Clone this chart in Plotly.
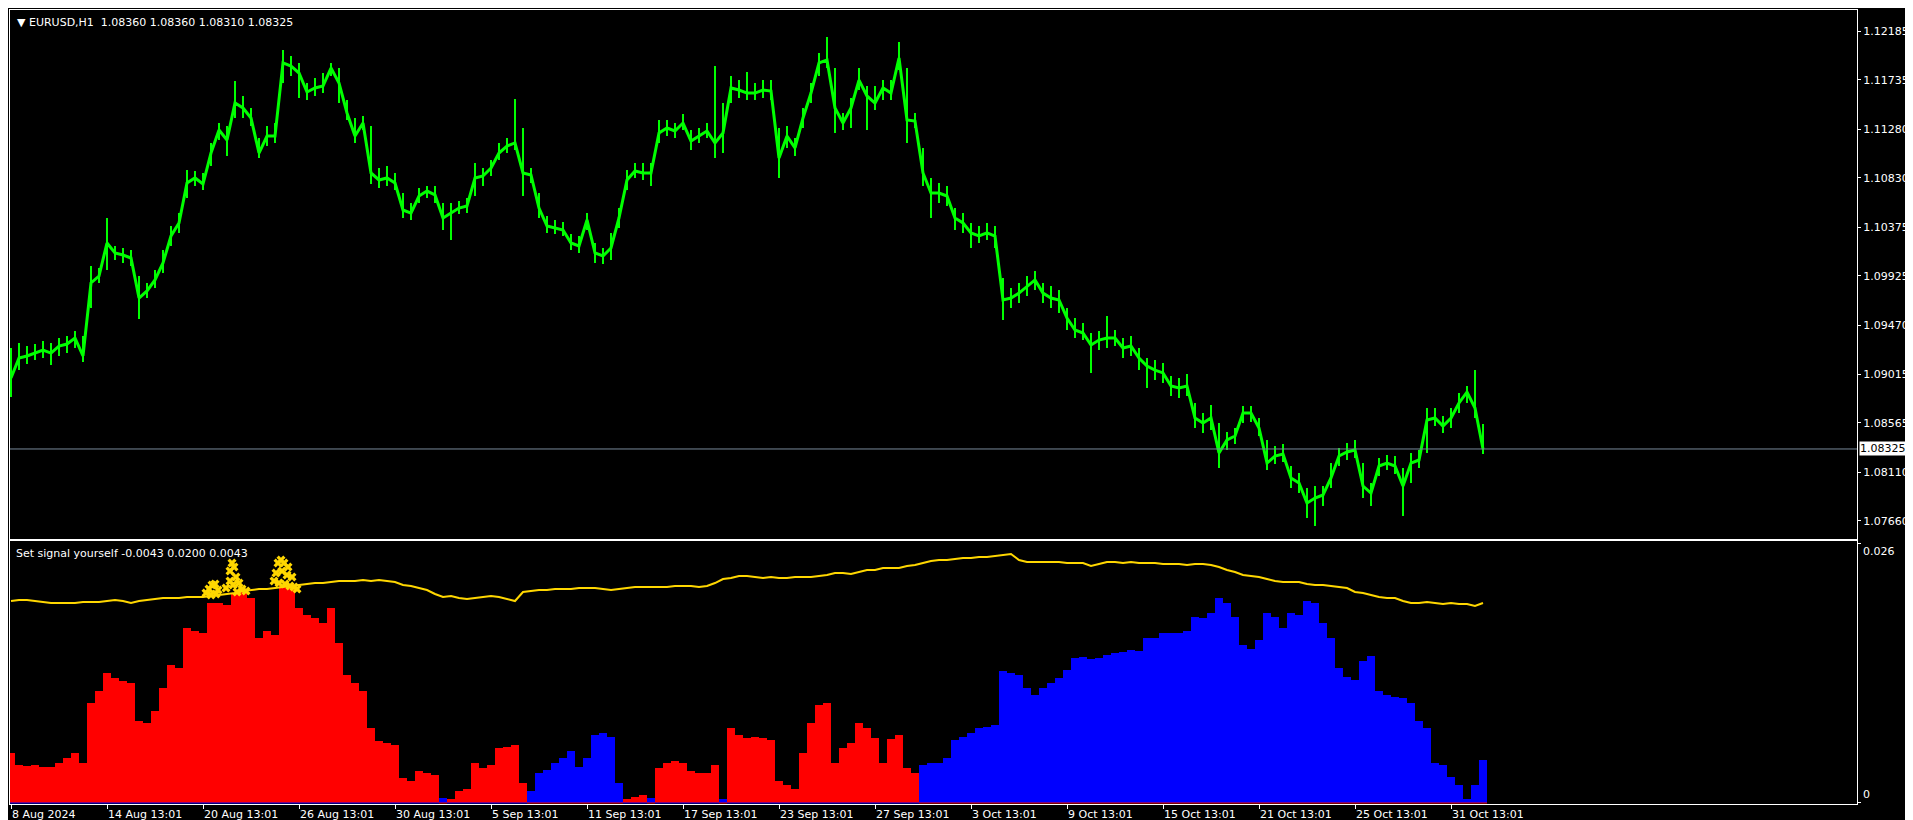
import plotly.graph_objects as go

STEP = 8  # hourly bars per sample

# EURUSD H1 close, sampled every 8 bars
price = [1.08981, 1.09165, 1.09184, 1.09211, 1.09239, 1.09211, 1.09276, 1.09294, 1.09350, 1.09184,
         1.09858, 1.09922, 1.10227, 1.10135, 1.10116, 1.10089, 1.09719, 1.09784, 1.09886, 1.10043,
         1.10292, 1.10412, 1.10781, 1.10828, 1.10772, 1.11058, 1.11271, 1.11178, 1.11520, 1.11474,
         1.11382, 1.11058, 1.11215, 1.11215, 1.11890, 1.11862, 1.11797, 1.11622, 1.11659, 1.11677,
         1.11843, 1.11705, 1.11428, 1.11215, 1.11335, 1.10874, 1.10809, 1.10828, 1.10781, 1.10532,
         1.10504, 1.10661, 1.10707, 1.10671, 1.10458, 1.10504, 1.10550, 1.10569, 1.10828, 1.10846,
         1.10920, 1.11058, 1.11123, 1.11151, 1.10874, 1.10855, 1.10550, 1.10384, 1.10366, 1.10347,
         1.10227, 1.10200, 1.10440, 1.10135, 1.10107, 1.10181, 1.10458, 1.10809, 1.10892, 1.10874,
         1.10874, 1.11243, 1.11289, 1.11262, 1.11335, 1.11169, 1.11215, 1.11262, 1.11151, 1.11243,
         1.11659, 1.11640, 1.11612, 1.11612, 1.11640, 1.11631, 1.11012, 1.11215, 1.11105, 1.11382,
         1.11612, 1.11890, 1.11917, 1.11474, 1.11335, 1.11474, 1.11732, 1.11585, 1.11520, 1.11659,
         1.11612, 1.11936, 1.11363, 1.11354, 1.10874, 1.10689, 1.10689, 1.10661, 1.10458, 1.10412,
         1.10320, 1.10292, 1.10320, 1.10292, 1.09701, 1.09719, 1.09765, 1.09830, 1.09886, 1.09765,
         1.09719, 1.09701, 1.09535, 1.09424, 1.09396, 1.09285, 1.09331, 1.09350, 1.09350, 1.09258,
         1.09276, 1.09165, 1.09091, 1.09054, 1.09027, 1.08907, 1.08888, 1.08907, 1.08611, 1.08565,
         1.08611, 1.08288, 1.08408, 1.08445, 1.08657, 1.08657, 1.08519, 1.08195, 1.08260, 1.08279,
         1.08057, 1.08011, 1.07826, 1.07872, 1.07900, 1.08057, 1.08260, 1.08297, 1.08316, 1.07983,
         1.07918, 1.08168, 1.08195, 1.08168, 1.07983, 1.08195, 1.08223, 1.08593, 1.08611, 1.08537,
         1.08611, 1.08750, 1.08851, 1.08703, 1.08325]

# highest high / lowest low inside each 8-bar sample
high = [1.09258, 1.09304, 1.09276, 1.09294, 1.09322, 1.09304, 1.09350, 1.09368, 1.09415, 1.09368,
        1.10015, 1.09996, 1.10458, 1.10200, 1.10181, 1.10163, 1.09922, 1.09858, 1.09978, 1.10163,
        1.10384, 1.10504, 1.10901, 1.10892, 1.10874, 1.11151, 1.11335, 1.11308, 1.11723, 1.11585,
        1.11474, 1.11197, 1.11308, 1.11335, 1.12010, 1.11954, 1.11890, 1.11705, 1.11751, 1.11797,
        1.11890, 1.11843, 1.11548, 1.11382, 1.11400, 1.11308, 1.10920, 1.10938, 1.10874, 1.10689,
        1.10597, 1.10735, 1.10754, 1.10754, 1.10597, 1.10597, 1.10615, 1.10643, 1.10966, 1.10920,
        1.10994, 1.11151, 1.11197, 1.11557, 1.11289, 1.10920, 1.10689, 1.10477, 1.10440, 1.10421,
        1.10310, 1.10292, 1.10504, 1.10227, 1.10181, 1.10320, 1.10550, 1.10901, 1.10966, 1.10966,
        1.10966, 1.11363, 1.11363, 1.11335, 1.11419, 1.11271, 1.11289, 1.11335, 1.11862, 1.11520,
        1.11769, 1.11733, 1.11806, 1.11705, 1.11733, 1.11733, 1.11289, 1.11308, 1.11197, 1.11474,
        1.11705, 1.11982, 1.12130, 1.11843, 1.11428, 1.11566, 1.11843, 1.11677, 1.11677, 1.11733,
        1.11733, 1.12083, 1.11843, 1.11428, 1.11105, 1.10827, 1.10781, 1.10754, 1.10550, 1.10504,
        1.10412, 1.10384, 1.10412, 1.10384, 1.09904, 1.09812, 1.09858, 1.09922, 1.09969, 1.09858,
        1.09830, 1.09793, 1.09627, 1.09535, 1.09488, 1.09396, 1.09415, 1.09553, 1.09424, 1.09350,
        1.09368, 1.09258, 1.09165, 1.09147, 1.09119, 1.08999, 1.08980, 1.09017, 1.08750, 1.08657,
        1.08731, 1.08565, 1.08482, 1.08519, 1.08722, 1.08722, 1.08611, 1.08408, 1.08353, 1.08371,
        1.08168, 1.08103, 1.07965, 1.07983, 1.07983, 1.08196, 1.08334, 1.08380, 1.08408, 1.08196,
        1.08011, 1.08242, 1.08269, 1.08260, 1.08149, 1.08288, 1.08316, 1.08703, 1.08703, 1.08629,
        1.08703, 1.08842, 1.08907, 1.09054, 1.08556]
low = [1.08805, 1.09054, 1.09110, 1.09147, 1.09165, 1.09100, 1.09184, 1.09211, 1.09258, 1.09128,
       1.09627, 1.09858, 1.09978, 1.10070, 1.10043, 1.10015, 1.09525, 1.09719, 1.09812, 1.09950,
       1.10200, 1.10320, 1.10643, 1.10754, 1.10717, 1.10938, 1.11178, 1.11031, 1.11382, 1.11382,
       1.11308, 1.11012, 1.11123, 1.11151, 1.11705, 1.11769, 1.11566, 1.11548, 1.11585, 1.11612,
       1.11769, 1.11520, 1.11363, 1.11151, 1.11271, 1.10772, 1.10735, 1.10754, 1.10717, 1.10458,
       1.10440, 1.10597, 1.10643, 1.10597, 1.10347, 1.10255, 1.10495, 1.10504, 1.10661, 1.10754,
       1.10846, 1.10994, 1.11058, 1.11086, 1.10661, 1.10781, 1.10458, 1.10320, 1.10310, 1.10292,
       1.10163, 1.10135, 1.10347, 1.10043, 1.10033, 1.10070, 1.10366, 1.10717, 1.10827, 1.10809,
       1.10754, 1.11151, 1.11215, 1.11197, 1.11271, 1.11086, 1.11151, 1.11197, 1.11012, 1.11058,
       1.11520, 1.11566, 1.11548, 1.11548, 1.11566, 1.11548, 1.10827, 1.11105, 1.11031, 1.11289,
       1.11520, 1.11769, 1.11843, 1.11243, 1.11271, 1.11289, 1.11640, 1.11271, 1.11455, 1.11548,
       1.11548, 1.11825, 1.11151, 1.11289, 1.10754, 1.10458, 1.10597, 1.10569, 1.10347, 1.10320,
       1.10181, 1.10227, 1.10255, 1.10181, 1.09516, 1.09627, 1.09673, 1.09738, 1.09793, 1.09673,
       1.09627, 1.09581, 1.09424, 1.09350, 1.09331, 1.09027, 1.09239, 1.09258, 1.09276, 1.09165,
       1.09184, 1.09054, 1.08888, 1.08962, 1.08934, 1.08814, 1.08796, 1.08814, 1.08519, 1.08473,
       1.08500, 1.08149, 1.08316, 1.08371, 1.08565, 1.08574, 1.08445, 1.08131, 1.08186, 1.08205,
       1.07965, 1.07918, 1.07688, 1.07614, 1.07798, 1.07965, 1.08168, 1.08223, 1.08242, 1.07872,
       1.07798, 1.08075, 1.08131, 1.08094, 1.07706, 1.08011, 1.08149, 1.08288, 1.08537, 1.08473,
       1.08519, 1.08657, 1.08750, 1.08611, 1.08279]

# indicator histogram (absolute value) and its colour state, every 8 bars
hist = [.0050, .0038, .0037, .0038, .0036, .0036, .0040, .0045, .0050, .0040,
        .0100, .0112, .0130, .0125, .0122, .0120, .0082, .0080, .0092, .0115,
        .0138, .0135, .0175, .0172, .0170, .0200, .0200, .0198, .0210, .0212,
        .0205, .0165, .0172, .0168, .0218, .0218, .0195, .0188, .0185, .0180,
        .0195, .0160, .0128, .0120, .0112, .0075, .0062, .0060, .0058, .0025,
        .0022, .0032, .0030, .0028, .0005, .0004, .0012, .0014, .0040, .0035,
        .0038, .0055, .0056, .0058, .0020, .0012, .0030, .0033, .0040, .0045,
        .0052, .0036, .0045, .0068, .0070, .0066, .0020, .0004, .0006, .0008,
        .0005, .0035, .0040, .0042, .0040, .0032, .0030, .0030, .0038, .0004,
        .0075, .0068, .0065, .0066, .0065, .0063, .0022, .0018, .0014, .0050,
        .0080, .0098, .0100, .0040, .0055, .0060, .0080, .0075, .0065, .0040,
        .0064, .0068, .0035, .0030, .0038, .0040, .0040, .0045, .0063, .0066,
        .0070, .0075, .0076, .0078, .0132, .0130, .0128, .0115, .0108, .0115,
        .0120, .0125, .0133, .0145, .0146, .0144, .0145, .0148, .0150, .0151,
        .0153, .0152, .0165, .0165, .0170, .0170, .0170, .0172, .0186, .0185,
        .0190, .0205, .0200, .0186, .0158, .0154, .0163, .0190, .0186, .0175,
        .0190, .0188, .0202, .0200, .0180, .0165, .0135, .0126, .0123, .0142,
        .0147, .0112, .0108, .0106, .0105, .0100, .0082, .0075, .0040, .0038,
        .0026, .0018, .0004, .0018, .0043]

state = ("R" * 54 + "B" + "R" * 10 + "B" * 12 + "RRR" + "B" + "R" * 8 + "B" + "R" * 24 + "B" * 71)

# signal (yellow) line, every 8 bars
signal = [.0202, .0203, .0203, .0202, .0201, .0200, .0200, .0200, .0200, .0201,
          .0201, .0201, .0202, .0203, .0202, .0200, .0202, .0203, .0204, .0205,
          .0205, .0205, .0206, .0206, .0206, .0207, .0208, .0209, .0210, .0212,
          .0213, .0214, .0214, .0215, .0216, .0217, .0218, .0219, .0220, .0220,
          .0221, .0222, .0222, .0222, .0223, .0222, .0223, .0222, .0221, .0218,
          .0217, .0215, .0213, .0209, .0206, .0207, .0205, .0204, .0205, .0206,
          .0207, .0206, .0204, .0202, .0211, .0212, .0213, .0213, .0214, .0214,
          .0214, .0215, .0215, .0215, .0214, .0213, .0214, .0215, .0216, .0216,
          .0216, .0216, .0216, .0217, .0217, .0217, .0216, .0217, .0220, .0224,
          .0225, .0227, .0227, .0226, .0225, .0226, .0225, .0225, .0226, .0226,
          .0226, .0227, .0228, .0230, .0230, .0229, .0231, .0233, .0233, .0235,
          .0235, .0235, .0237, .0238, .0240, .0242, .0243, .0243, .0244, .0245,
          .0245, .0246, .0246, .0247, .0248, .0249, .0243, .0241, .0241, .0241,
          .0241, .0241, .0240, .0240, .0240, .0237, .0239, .0241, .0241, .0240,
          .0241, .0240, .0240, .0240, .0239, .0239, .0239, .0238, .0239, .0239,
          .0238, .0236, .0233, .0231, .0228, .0227, .0226, .0224, .0222, .0221,
          .0221, .0221, .0219, .0218, .0218, .0217, .0216, .0215, .0211, .0210,
          .0208, .0206, .0205, .0205, .0202, .0200, .0200, .0201, .0200, .0199,
          .0200, .0199, .0199, .0197, .0200]

# signal arrows (bar index, value)
sig_bar = [195, 198, 201, 204, 207, 200, 205,
           219, 221, 223, 219, 225, 215, 222, 228, 231, 235, 226,
           267, 270, 273, 277, 265, 271, 276, 281, 263, 268, 274, 279, 283, 286]
sig_val = [.0210, .0214, .0218, .0219, .0213, .0208, .0209,
           .0232, .0240, .0236, .0222, .0226, .0215, .0218, .0220, .0214, .0212, .0211,
           .0240, .0243, .0240, .0236, .0230, .0232, .0228, .0226, .0222, .0220, .0219, .0217, .0216, .0214]

tick_bars = [0, 96, 192, 288, 384, 480, 576, 672, 768, 864, 960, 1056, 1152, 1248, 1344, 1440]
tick_text = ["8 Aug 2024", "14 Aug 13:01", "20 Aug 13:01", "26 Aug 13:01", "30 Aug 13:01",
             "5 Sep 13:01", "11 Sep 13:01", "17 Sep 13:01", "23 Sep 13:01", "27 Sep 13:01",
             "3 Oct 13:01", "9 Oct 13:01", "15 Oct 13:01", "21 Oct 13:01", "25 Oct 13:01",
             "31 Oct 13:01"]
price_ticks = [1.12185, 1.11735, 1.11280, 1.10830, 1.10375, 1.09925, 1.09470, 1.09015,
               1.08565, 1.08110, 1.07660]
last_price = 1.08325
title_main = "EURUSD,H1\u00a0\u00a01.08360 1.08360 1.08310 1.08325"
title_ind = "Set signal yourself -0.0043 0.0200 0.0043"

xs = [i * STEP for i in range(len(price))]
FONT = "DejaVu Sans"
WHITE = "#FFFFFF"
GREEN = "#00FF00"
RED = "#FF0000"
BLUE = "#0000FF"

fig = go.Figure()
# high-low bars of each sample, then the close line
bx, by = [], []
for x, h, l in zip(xs, high, low):
    bx += [x, x, None]
    by += [l, h, None]
fig.add_trace(go.Scatter(x=bx, y=by, mode="lines", line=dict(color=GREEN, width=2),
                         xaxis="x", yaxis="y", hoverinfo="skip"))
fig.add_trace(go.Scatter(x=xs, y=price, mode="lines", line=dict(color=GREEN, width=3),
                         xaxis="x", yaxis="y", hoverinfo="skip"))

colmap = {"R": RED, "B": BLUE}
fig.add_trace(go.Bar(x=xs, y=hist, width=STEP,
                     marker=dict(color=[colmap[c] for c in state], line=dict(width=0)),
                     xaxis="x2", yaxis="y2", hoverinfo="skip"))

# thin zero line of the opposite buffer
for col_key, line_col in (("R", BLUE), ("B", RED)):
    zx, zy = [], []
    for x, c in zip(xs, state):
        if c == col_key:
            zx += [x - STEP / 2, x + STEP / 2, None]
            zy += [0, 0, None]
    fig.add_trace(go.Scatter(x=zx, y=zy, mode="lines", line=dict(color=line_col, width=1),
                             xaxis="x2", yaxis="y2", hoverinfo="skip"))

fig.add_trace(go.Scatter(x=xs, y=signal, mode="lines", line=dict(color="#FFD700", width=2),
                         xaxis="x2", yaxis="y2", hoverinfo="skip"))
fig.add_trace(go.Scatter(x=sig_bar, y=sig_val, mode="markers",
                         marker=dict(symbol="x", size=8, color="#FFD700", line=dict(width=0)),
                         xaxis="x2", yaxis="y2", hoverinfo="skip"))

xr = [-1, 1846]
axis_common = dict(showline=True, linecolor=WHITE, linewidth=1, mirror=True, showgrid=False,
                   zeroline=False, automargin=False)
fig.update_layout(
    width=1913, height=820,
    margin=dict(l=2, r=64, t=2, b=24),
    paper_bgcolor="black", plot_bgcolor="black",
    template="none", showlegend=False, bargap=0,
    font=dict(family=FONT, size=11, color=WHITE),
    xaxis=dict(domain=[0, 1], range=xr, anchor="y", showticklabels=False, ticks="", **axis_common),
    yaxis=dict(domain=[0.3338, 1], range=[1.07494, 1.12379], side="right", anchor="x",
               tickvals=price_ticks, ticktext=[f"{v:.5f}" for v in price_ticks],
               ticks="outside", ticklen=3, tickcolor=WHITE,
               tickfont=dict(family=FONT, size=11, color=WHITE), **axis_common),
    xaxis2=dict(domain=[0, 1], range=xr, anchor="y2", tickvals=tick_bars, ticktext=tick_text,
                ticks="outside", ticklen=4, tickcolor=WHITE, ticklabelposition="outside right",
                tickfont=dict(family=FONT, size=11, color=WHITE), **axis_common),
    yaxis2=dict(domain=[0, 0.3312], range=[-0.0001, 0.0262], side="right", anchor="x2",
                tickvals=[0, 0.026], showticklabels=False, ticks="outside", ticklen=3,
                tickcolor=WHITE, **axis_common),
)

fig.add_shape(type="line", xref="x domain", yref="y", x0=0, x1=1, y0=last_price, y1=last_price,
              line=dict(color="#778899", width=1))
fig.add_annotation(xref="paper", yref="y", x=1, y=last_price, xanchor="left", xshift=2,
                   text=f"{last_price:.5f}", showarrow=False, bgcolor=WHITE,
                   font=dict(family=FONT, size=11, color="black"), borderpad=0)
fig.add_annotation(xref="paper", yref="y2", x=1, y=0.026, xanchor="left", yanchor="top", xshift=4,
                   text="0.026", showarrow=False, font=dict(family=FONT, size=11, color=WHITE))
fig.add_annotation(xref="paper", yref="y2", x=1, y=0, xanchor="left", yanchor="bottom", xshift=4,
                   text="0", showarrow=False, font=dict(family=FONT, size=11, color=WHITE))
fig.add_annotation(xref="paper", yref="paper", x=0, y=1, xanchor="left", yanchor="top",
                   xshift=5, yshift=-4, text="▼ " + title_main, showarrow=False,
                   font=dict(family=FONT, size=11, color=WHITE))
fig.add_annotation(xref="paper", yref="paper", x=0, y=0.3312, xanchor="left", yanchor="top",
                   xshift=4, yshift=-4, text=title_ind, showarrow=False,
                   font=dict(family=FONT, size=11, color=WHITE))

fig.write_html("out.html")
